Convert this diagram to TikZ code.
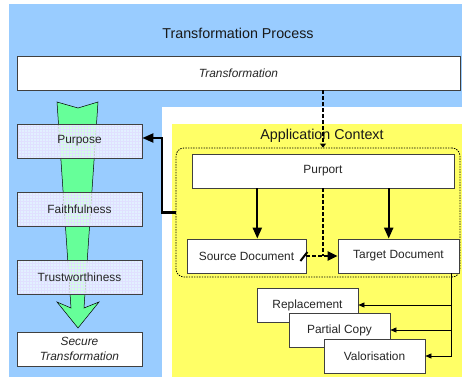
\documentclass[tikz,border=0pt]{standalone}
\usepackage{fontspec}
\setmainfont{Liberation Sans}
\usetikzlibrary{arrows.meta,calc}

\definecolor{skyback}{RGB}{153,204,255}
\definecolor{ctxyellow}{RGB}{255,255,102}
\definecolor{flowgreen}{RGB}{102,255,153}

\begin{document}
\begin{tikzpicture}[x=1pt, y=-1pt,
    box/.style={draw=black!75, line width=0.8pt, fill=white, minimum height=34pt,
        inner sep=0pt, font=\fontsize{11.9}{14}\selectfont, text=black!85},
    gridbox/.style={box, minimum width=125pt, fill opacity=0.72, text opacity=1,
        path picture={\draw[blue!12, line width=0.25pt, step=3pt]
            (path picture bounding box.south west) grid (path picture bounding box.north east);}},
    heading/.style={font=\fontsize{14.3}{17}\selectfont, text=black!90},
    dots/.style={line width=2.2pt, dash pattern=on 3.5pt off 2.5pt},
    thickarr/.style={line width=2.2pt, -{Triangle[width=9pt,length=11pt]}},
    thinarr/.style={line width=0.6pt, -{Triangle[width=5pt,length=6pt]}}]

    \useasboundingbox (0,0) rectangle (462,377);

    % Backgrounds
    \fill[skyback] (9,4) rectangle (462,377);
    \fill[white] (162,107) rectangle (462,377);
    \fill[ctxyellow] (172,124) rectangle (462,377);

    % Titles
    \node[heading] (title) at (238,33) {Transformation Process};
    \node[heading] (ctxtitle) at (322,136) {Application Context};

    \node[box, minimum width=443pt, font=\fontsize{11.9}{14}\selectfont\itshape] (trans) at (238.5,73) {Transformation};

    % Green arrow behind the left column
    \draw[fill=flowgreen, line width=0.5pt] (57,102) -- (78,108) -- (98,102) -- (84,308) -- (99,302)
        -- (78,328) -- (57,302) -- (71,308) -- cycle;

    % Left column
    \node[gridbox] (purpose) at (79.5,141) {Purpose};
    \node[gridbox] (faith) at (79.5,209) {Faithfulness};
    \node[gridbox] (trust) at (79.5,277) {Trustworthiness};
    \node[box, minimum width=125pt, align=center, font=\fontsize{11.9}{14.5}\selectfont\itshape] (secure) at (79.5,349) {Secure\\Transformation};

    % Application context
    \node[draw, line width=0.8pt, dash pattern=on 1.4pt off 1.2pt, rounded corners=8pt,
        minimum width=284pt, minimum height=129pt] (ctx) at (318,212.5) {};
    \node[box, minimum width=262pt] (purport) at (323,171) {Purport};
    \node[box, minimum width=119pt] (source) at (246.5,256) {Source Document};
    \node[box, minimum width=121pt] (target) at (398.5,256) {Target Document};

    \node[box, minimum width=101pt] (repl) at (307.5,305) {Replacement};
    \node[box, minimum width=101pt] (partial) at (339.5,330) {Partial Copy};
    \node[box, minimum width=101pt] (valor) at (374.5,356) {Valorisation};

    % Connectors
    \draw[thickarr] ($(purport.south west)!0.25!(purport.south east)$) coordinate (p1) -- (p1 |- source.north);
    \draw[thickarr] ($(purport.south west)!0.75!(purport.south east)$) coordinate (p2) -- (p2 |- target.north);

    \draw[dots, -{Triangle[width=6pt,length=4pt]}] (purport |- trans.south) -- (purport |- ctx.north);
    \coordinate (junction) at (purport.south |- source.east);
    \draw[dots] (purport.south) -- (junction);
    \draw[dots, -{Triangle[width=9pt,length=10pt]}] (source.east) -- (target.west);
    \draw[line width=2pt] ($(source.east)+(-6,5)$) -- ($(source.east)+(1,-4)$);

    \draw[thickarr] (ctx.west) -- (162,212.5) |- ($(purpose.east)+(0,-3)$);

    \draw[thinarr] ($(target.south east)+(-8,0)$) coordinate (t1) |- (valor.east);
    \draw[thinarr] (t1) |- (partial.east);
    \draw[thinarr] (t1) |- (repl.east);

\end{tikzpicture}
\end{document}
